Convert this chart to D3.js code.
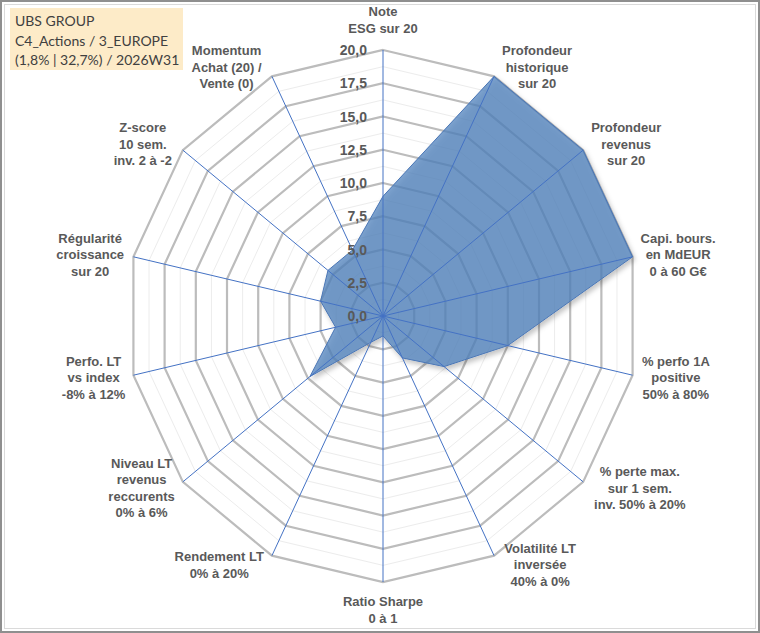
<!DOCTYPE html>
<html>
<head>
<meta charset="utf-8">
<script src="https://cdn.jsdelivr.net/npm/d3@7"></script>
<style>
  html, body { margin: 0; padding: 0; background: #fff; }
  svg { display: block; }
</style>
</head>
<body>
<svg id="chart" width="760" height="633"></svg>
<script>
"use strict";

// axis labels, clockwise from the top
const axisLabels = [
    ["Note", "ESG sur 20"],
    ["Profondeur", "historique", "sur 20"],
    ["Profondeur", "revenus", "sur 20"],
    ["Capi. bours.", "en MdEUR", "0 à 60 G€"],
    ["% perfo 1A", "positive", "50% à 80%"],
    ["% perte max.", "sur 1 sem.", "inv. 50% à 20%"],
    ["Volatilité LT", "inversée", "40% à 0%"],
    ["Ratio Sharpe", "0 à 1"],
    ["Rendement LT", "0% à 20%"],
    ["Niveau LT", "revenus", "reccurents", "0% à 6%"],
    ["Perfo. LT", "vs index", "-8% à 12%"],
    ["Régularité", "croissance", "sur 20"],
    ["Z-score", "10 sem.", "inv. 2 à -2"],
    ["Momentum", "Achat (20) /", "Vente (0)"]
];

// scores (0-20)
const scores = [9.0, 20, 20, 20, 10.0, 6.1, 3.5, 1.5, 2.2, 7.3, 3.8, 5.0, 5.5, 5.5];

const majorTicks = [0, 2.5, 5, 7.5, 10, 12.5, 15, 17.5, 20];
const minorTicks = [1.25, 3.75, 6.25, 8.75, 11.25, 13.75, 16.25, 18.75];

const titleLines = ["UBS GROUP", "C4_Actions / 3_EUROPE", "(1,8% | 32,7%) / 2026W31"];

{
    const svg = d3.select("#chart"),
        width = 760,
        height = 633,
        cx = 383,
        cy = 316,
        n = axisLabels.length,
        labelFont = "'Liberation Sans', Arial, sans-serif";

    const rx = d3.scaleLinear().domain([0, 20]).range([0, 256]);
    const ry = d3.scaleLinear().domain([0, 20]).range([0, 266]);
    const angle = d3.scaleLinear().domain([0, n]).range([0, 2 * Math.PI]);

    const fmt = d3.formatLocale({decimal: ",", thousands: " ", grouping: [3], currency: ["", "€"]})
        .format(".1f");

    const point = (i, v) => {
        const a = angle(i);
        return [cx + Math.sin(a) * rx(v), cy - Math.cos(a) * ry(v)];
    };
    const ring = v => d3.range(n).map(i => point(i, v));
    const line = d3.line().curve(d3.curveLinearClosed);

    // frame
    svg.append("rect")
        .attr("x", 1).attr("y", 1)
        .attr("width", width - 2).attr("height", height - 2)
        .attr("fill", "#fff").attr("stroke", "#8f8f8f").attr("stroke-width", 2);
    svg.append("rect")
        .attr("x", 4.5).attr("y", 4.5)
        .attr("width", width - 9).attr("height", height - 9)
        .attr("fill", "none").attr("stroke", "#dadada").attr("stroke-width", 1);

    const defs = svg.append("defs");
    defs.append("filter")
        .attr("id", "shadow")
        .attr("x", "-10%").attr("y", "-10%")
        .attr("width", "130%").attr("height", "130%")
        .append("feDropShadow")
        .attr("dx", 2).attr("dy", 3)
        .attr("stdDeviation", 2.5)
        .attr("flood-color", "#000")
        .attr("flood-opacity", 0.3);

    // grid
    const grid = svg.append("g");
    grid.selectAll(".minor")
        .data(minorTicks)
        .join("path")
        .attr("class", "minor")
        .attr("d", v => line(ring(v)))
        .attr("fill", "none")
        .attr("stroke", "#ececec")
        .attr("stroke-width", 1);
    grid.selectAll(".major")
        .data(majorTicks.filter(v => v > 0))
        .join("path")
        .attr("class", "major")
        .attr("d", v => line(ring(v)))
        .attr("fill", "none")
        .attr("stroke", "#bcbcbc")
        .attr("stroke-width", 2.2);

    // series
    svg.append("path")
        .attr("d", line(scores.map((v, i) => point(i, v))))
        .attr("fill", "#4f81bd")
        .attr("fill-opacity", 0.74)
        .attr("stroke", "#4a76b5")
        .attr("stroke-width", 1)
        .attr("filter", "url(#shadow)");

    // spokes
    svg.append("g")
        .selectAll("line")
        .data(d3.range(n))
        .join("line")
        .attr("x1", cx).attr("y1", cy)
        .attr("x2", i => point(i, 20)[0])
        .attr("y2", i => point(i, 20)[1])
        .attr("stroke", "#4472c4")
        .attr("stroke-width", 1);

    // value ticks on the top axis
    svg.append("g")
        .selectAll("text")
        .data(majorTicks)
        .join("text")
        .attr("x", cx - 16)
        .attr("y", v => cy - ry(v))
        .attr("dy", "0.36em")
        .attr("text-anchor", "end")
        .attr("font-family", labelFont)
        .attr("font-weight", "bold")
        .attr("font-size", 14)
        .attr("fill", "#595959")
        .text(fmt);

    // category labels
    const lineH = 16.5;
    const labels = svg.append("g")
        .selectAll("text")
        .data(axisLabels)
        .join("text")
        .attr("text-anchor", "middle")
        .attr("font-family", labelFont)
        .attr("font-weight", "bold")
        .attr("font-size", 13)
        .attr("fill", "#595959");

    labels.each(function(lines, i) {
        const t = d3.select(this),
            a = angle(i),
            [ex, ey] = point(i, 20),
            s = Math.sin(a),
            c = Math.cos(a);

        t.selectAll("tspan")
            .data(lines)
            .join("tspan")
            .text(d => d);

        const w = d3.max(t.selectAll("tspan").nodes(), d => d.getComputedTextLength());
        let mx, my;
        if (Math.abs(s) < 1e-6) {
            mx = ex;
            my = ey + (c > 0 ? -30 : 28);
        } else {
            // a bit more room on the lower-right / upper-left diagonals
            const gap = 8 + 6 * Math.max(0, -s * c);
            mx = ex + Math.sign(s) * (w / 2 + gap);
            my = ey - c * 10;
        }
        const y0 = my - (lines.length - 1) / 2 * lineH + 4.6;
        t.selectAll("tspan")
            .attr("x", mx)
            .attr("y", (d, k) => y0 + k * lineH);
    });

    // title box
    const title = svg.append("g");
    title.append("rect")
        .attr("x", 10).attr("y", 8)
        .attr("width", 173).attr("height", 62)
        .attr("fill", "#fdebc8");
    title.selectAll("text")
        .data(titleLines)
        .join("text")
        .attr("x", 15)
        .attr("y", (d, i) => 26 + i * 19.5)
        .attr("font-family", "Lato, 'Liberation Sans', sans-serif")
        .attr("font-size", 14)
        .attr("fill", "#404040")
        .text(d => d);
}
</script>
</body>
</html>
